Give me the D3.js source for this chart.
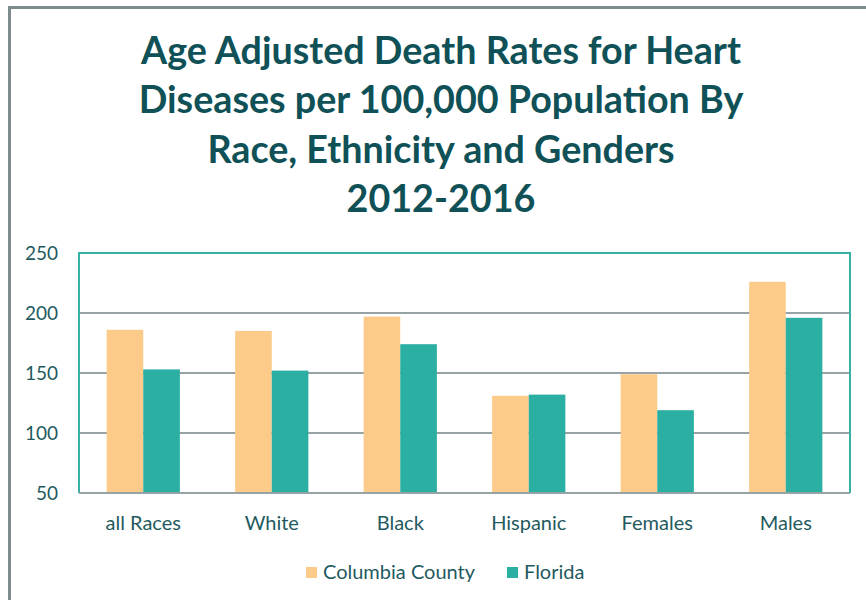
<!DOCTYPE html>
<html>
<head>
<meta charset="utf-8">
<script src="https://cdn.jsdelivr.net/npm/d3@7"></script>
<style>
  body { margin: 0; background: #fff; }
  svg { display: block; font-family: Lato, "Open Sans", sans-serif; }
</style>
</head>
<body>
<div id="chart"></div>
<script>
// -------- Data --------
const titleLines = [
  "Age Adjusted Death Rates for Heart",
  "Diseases per 100,000 Population By",
  "Race, Ethnicity and Genders",
  "2012-2016"
];
const categories = ["all Races", "White", "Black", "Hispanic", "Females", "Males"];
const seriesNames = ["Columbia County", "Florida"];
const columbiaValues = [186, 185, 197, 131, 149, 226];
const floridaValues = [153, 152, 174, 132, 119, 196];
const yTicks = [50, 100, 150, 200, 250];

const colors = { "Columbia County": "#fdcb89", "Florida": "#2bafa3" };
const textColor = "#1f5a60";

const W = 866, H = 600;
const margin = { top: 253, right: 16, bottom: 107, left: 79 };
const width = W - margin.left - margin.right;
const height = H - margin.top - margin.bottom;

const svg = d3.select("#chart").append("svg")
  .attr("width", W)
  .attr("height", H);

// outer chart border (runs off the right and bottom edge)
svg.append("rect")
  .attr("x", 9.5).attr("y", 7.5)
  .attr("width", W + 20).attr("height", H + 20)
  .attr("fill", "none")
  .attr("stroke", "#7d8b8e")
  .attr("stroke-width", 3);

// title - sized so the first line spans about 600px like the original
const title = svg.append("g")
  .selectAll("text")
  .data(titleLines)
  .join("text")
  .attr("x", 441)
  .attr("y", (d, i) => 64 + i * 49.3)
  .attr("text-anchor", "middle")
  .attr("font-size", 32)
  .attr("font-weight", "bold")
  .attr("fill", "#0f5157")
  .text(d => d);

const firstLen = title.node().getComputedTextLength();
const titleSize = Math.min(38, 32 * 600 / firstLen);
title.attr("font-size", titleSize);

const rows = categories.map((c, i) => ({
  category: c,
  values: [
    { series: seriesNames[0], value: columbiaValues[i] },
    { series: seriesNames[1], value: floridaValues[i] }
  ]
}));

const g = svg.append("g")
  .attr("transform", `translate(${margin.left},${margin.top})`);

const x0 = d3.scaleBand()
  .domain(categories)
  .range([0, width])
  .paddingInner(0.43)
  .paddingOuter(0.215);

const x1 = d3.scaleBand()
  .domain(seriesNames)
  .range([0, x0.bandwidth()]);

const y = d3.scaleLinear()
  .domain([50, 250])
  .range([height, 0]);

// gridlines
g.append("g")
  .selectAll("line")
  .data(yTicks)
  .join("line")
  .attr("x1", 0).attr("x2", width)
  .attr("y1", d => y(d)).attr("y2", d => y(d))
  .attr("stroke", "#97a3a6")
  .attr("stroke-width", 2);

// y labels
g.append("g")
  .selectAll("text")
  .data(yTicks)
  .join("text")
  .attr("x", -21)
  .attr("y", d => y(d))
  .attr("dy", "0.35em")
  .attr("text-anchor", "end")
  .attr("font-size", 19)
  .attr("fill", textColor)
  .text(d => d);

// bars
g.append("g")
  .selectAll("g")
  .data(rows)
  .join("g")
  .attr("transform", d => `translate(${x0(d.category)},0)`)
  .selectAll("rect")
  .data(d => d.values)
  .join("rect")
  .attr("x", d => x1(d.series))
  .attr("y", d => y(d.value))
  .attr("width", x1.bandwidth())
  .attr("height", d => y(50) - y(d.value))
  .attr("fill", d => colors[d.series]);

// plot area border
g.append("path")
  .attr("d", `M0,${height}V0H${width}V${height}`)
  .attr("fill", "none")
  .attr("stroke", "#35b1a5")
  .attr("stroke-width", 2);

// bottom axis line
g.append("line")
  .attr("x1", 0).attr("x2", width)
  .attr("y1", height).attr("y2", height)
  .attr("stroke", "#97a3a6")
  .attr("stroke-width", 2);

// category labels
g.append("g")
  .selectAll("text")
  .data(categories)
  .join("text")
  .attr("x", d => x0(d) + x0.bandwidth() / 2)
  .attr("y", height + 37)
  .attr("text-anchor", "middle")
  .attr("font-size", 20)
  .attr("fill", textColor)
  .text(d => d);

// legend
const legend = svg.append("g").attr("transform", "translate(306,567)");
const legendX = [0, 201];
seriesNames.forEach((s, i) => {
  const lg = legend.append("g").attr("transform", `translate(${legendX[i]},0)`);
  lg.append("rect")
    .attr("width", 11).attr("height", 11)
    .attr("fill", colors[s]);
  lg.append("text")
    .attr("x", 17).attr("y", 12)
    .attr("font-size", 20)
    .attr("fill", textColor)
    .text(s);
});
</script>
</body>
</html>
